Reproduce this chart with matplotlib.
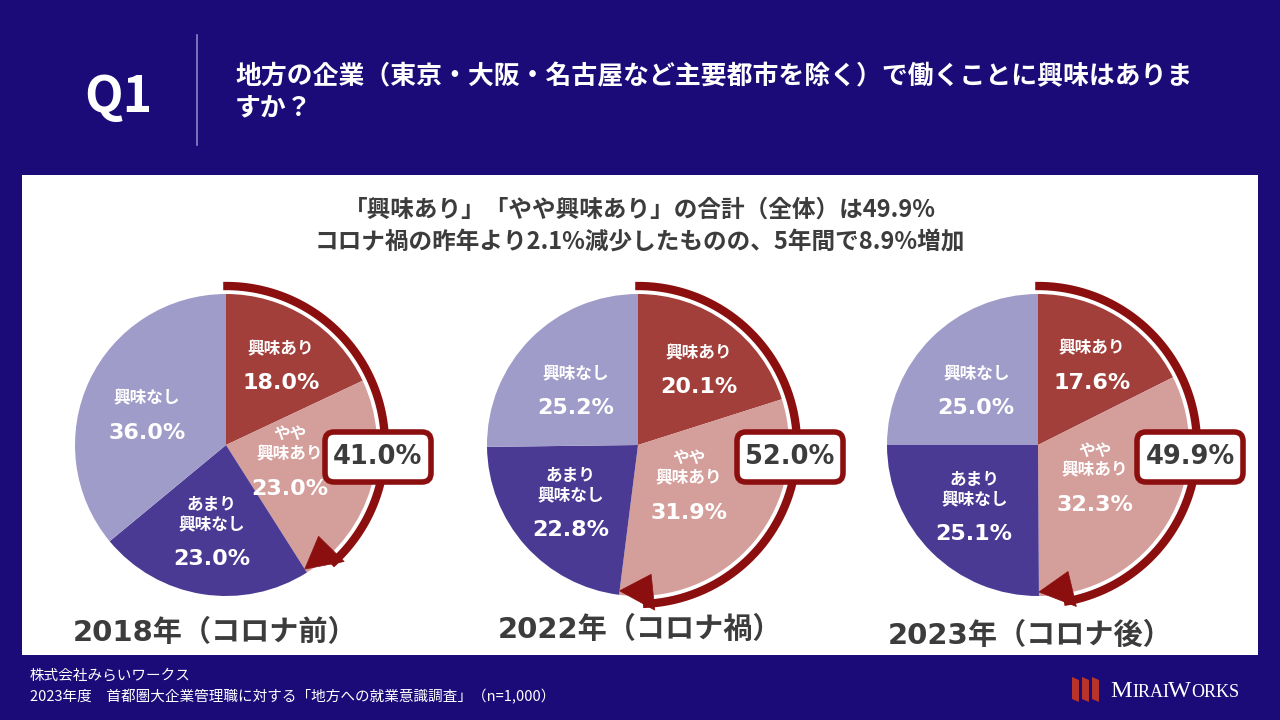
import numpy as np
import matplotlib
matplotlib.use("Agg")
import matplotlib.pyplot as plt
from matplotlib.patches import FancyBboxPatch, Rectangle, Polygon

# データ
categories = ["興味あり", "やや\n興味あり", "あまり\n興味なし", "興味なし"]
years = ["2018年（コロナ前）", "2022年（コロナ禍）", "2023年（コロナ後）"]
values_2018 = [18.0, 23.0, 23.0, 36.0]
values_2022 = [20.1, 31.9, 22.8, 25.2]
values_2023 = [17.6, 32.3, 25.1, 25.0]
totals = [41.0, 52.0, 49.9]

question = ["地方の企業（東京・大阪・名古屋など主要都市を除く）で働くことに興味はありま", "すか？"]
subtitle = ["「興味あり」「やや興味あり」の合計（全体）は49.9%",
            "コロナ禍の昨年より2.1%減少したものの、5年間で8.9%増加"]
footer = ["株式会社みらいワークス",
          "2023年度　首都圏大企業管理職に対する「地方への就業意識調査」（n=1,000）"]

NAVY = "#1b0b78"
ARC = "#8c0f0f"
DARK = "#3c3c3c"
colors = ["#a23f3a", "#d49e9b", "#4a3a94", "#a09cc9"]
label_r = [0.68, 0.44, 0.6, 0.58]  # ラベル位置（半径比）
JP = ["Noto Sans CJK JP", "DejaVu Sans"]
NUM = ["DejaVu Sans", "Noto Sans CJK JP"]

W, H = 1280, 720


def Y(py):
    return H - py


fig = plt.figure(figsize=(12.8, 7.2), dpi=100, facecolor=NAVY)
ax = fig.add_axes([0, 0, 1, 1])
ax.set_facecolor(NAVY)
ax.set_xlim(0, W)
ax.set_ylim(0, H)

# ヘッダー
ax.text(118, Y(97), "Q1", color="white", fontsize=36, fontweight="bold",
        family=JP, ha="center", va="center")
ax.plot([197, 197], [Y(35), Y(145)], color="#8a86c8", lw=1.2)
for i, line in enumerate(question):
    ax.text(235, Y(77 + 31 * i), line, color="white", fontsize=18.6, fontweight="bold",
            family=JP, ha="left", va="center")

# 白パネル
ax.add_patch(Rectangle((22, Y(655)), 1236, 480, facecolor="white", edgecolor="none"))
for i, line in enumerate(subtitle):
    ax.text(640, Y(210 + 33 * i), line, color=DARK, fontsize=17, fontweight="bold",
            family=JP, ha="center", va="center")

centers = [(226, 445), (638, 445), (1038, 445)]
year_pos = [(215, 633), (640, 630), (1030, 636)]
R = 151
all_values = [values_2018, values_2022, values_2023]

for (cx, cy), vals, tot, yr, (yx, yy) in zip(centers, all_values, totals, years, year_pos):
    ax.pie(vals, colors=colors, startangle=90, counterclock=False,
           center=(cx, Y(cy)), radius=R, frame=True,
           wedgeprops=dict(linewidth=0))

    # ラベル
    cum = 0
    for cat, v, rf in zip(categories, vals, label_r):
        mid = np.deg2rad(90 - (cum + v / 2) * 3.6)
        cum += v
        lx = cx + rf * R * np.cos(mid)
        ly = cy - rf * R * np.sin(mid)
        ax.text(lx, Y(ly), cat, color="white", fontsize=12, fontweight="bold",
                family=JP, ha="center", va="bottom", linespacing=1.15)
        ax.text(lx, Y(ly + 15), f"{v:.1f}%", color="white", fontsize=16,
                fontweight="bold", family=NUM, ha="center", va="top")

    # 矢印の弧
    te = 90 - tot * 3.6
    ra = R + 8
    th = np.deg2rad(np.linspace(91, te + 9, 80))
    ax.plot(cx + ra * np.cos(th), Y(cy) + ra * np.sin(th), color=ARC, lw=6,
            solid_capstyle="butt", zorder=2)
    t_tip, t_base = np.deg2rad(te), np.deg2rad(te + 13)
    head = [(cx + (R - 4) * np.cos(t_tip), Y(cy) + (R - 4) * np.sin(t_tip)),
            (cx + (R - 21) * np.cos(t_base), Y(cy) + (R - 21) * np.sin(t_base)),
            (cx + (R + 15) * np.cos(t_base), Y(cy) + (R + 15) * np.sin(t_base))]
    ax.add_patch(Polygon(head, closed=True, facecolor=ARC, edgecolor=ARC, lw=0.5, zorder=3))

    # 合計ボックス
    bx, by = cx + 152, cy + 12
    ax.add_patch(FancyBboxPatch((bx - 48, Y(by) - 20), 96, 40,
                                boxstyle="round,pad=5,rounding_size=9",
                                facecolor="white", edgecolor=ARC, lw=4, zorder=4))
    ax.text(bx, Y(by), f"{tot:.1f}%", color=DARK, fontsize=18.5, fontweight="bold",
            family=NUM, ha="center", va="center", zorder=5)

    ax.text(yx, Y(yy), yr, color=DARK, fontsize=21, fontweight="bold",
            family=NUM, ha="center", va="center")

# フッター
for i, line in enumerate(footer):
    ax.text(30, Y(676 + 21 * i), line, color="white", fontsize=10.5, family=JP,
            ha="left", va="center")

# ロゴ
for k in range(3):
    x0 = 1072 + k * 10
    ax.add_patch(Polygon([(x0, Y(677)), (x0 + 7, Y(680)), (x0 + 7, Y(702)), (x0, Y(699))],
                         closed=True, facecolor="#b8342a", edgecolor="none"))
renderer = fig.canvas.get_renderer()
x = 1110
for part, size, gap in [("M", 17.5, 0.5), ("IRAI", 13, -1.5), ("W", 17.5, 0.5), ("ORKS", 13, 0)]:
    t = ax.text(x, Y(697), part, color="white", fontsize=size, family="Liberation Serif",
                ha="left", va="baseline")
    bb = t.get_window_extent(renderer=renderer)
    x += bb.width + gap

ax.set_xlim(0, W)
ax.set_ylim(0, H)
ax.set_aspect("auto")
ax.axis("off")

fig.savefig("out.png", dpi=100, facecolor=NAVY)
